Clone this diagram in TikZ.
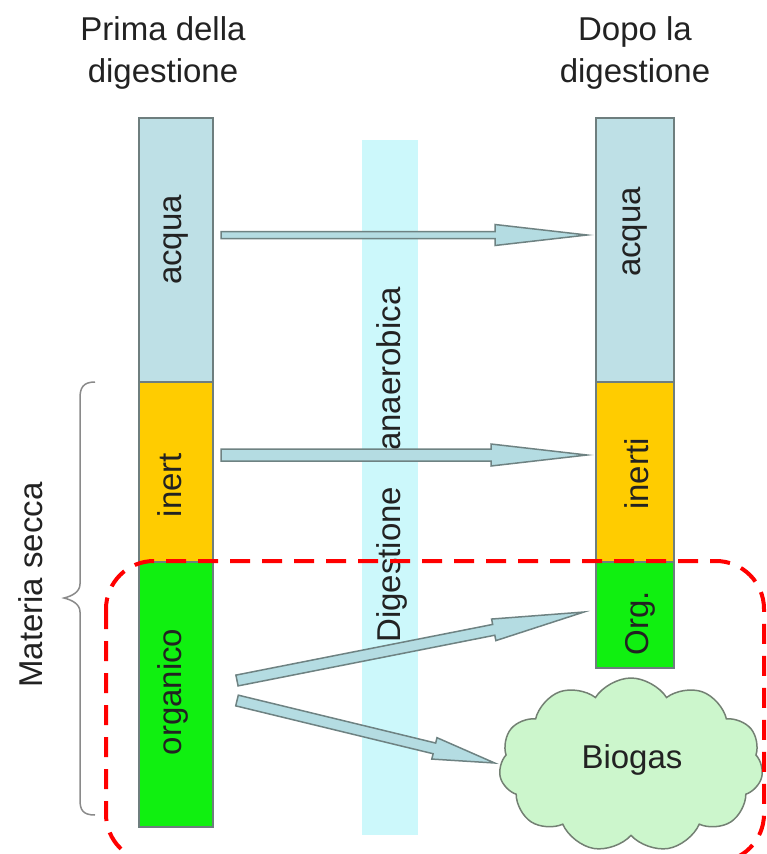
\documentclass[tikz,border=0pt]{standalone}
\usepackage{fontspec}
\setmainfont{Liberation Sans}
\usetikzlibrary{calc,shapes.symbols}
\definecolor{acq}{HTML}{BEE0E6}
\definecolor{inr}{HTML}{FFCC00}
\definecolor{org}{HTML}{10F010}
\definecolor{bord}{HTML}{6E7E7E}
\definecolor{band}{HTML}{CCF8FB}
\definecolor{arrf}{HTML}{B4DCE2}
\definecolor{arrd}{HTML}{6E8282}
\definecolor{cldf}{HTML}{CCF6CC}
\definecolor{cldd}{HTML}{738073}
\definecolor{txt}{HTML}{222222}
\definecolor{brc}{HTML}{8A8A8A}
\tikzset{
  colbox/.style={draw=bord,line width=2pt,inner sep=0pt,outer sep=0pt},
  lbl/.style={font=\fontsize{33}{42}\selectfont,text=txt,inner sep=0pt},
  vlbl/.style={lbl,rotate=90,anchor=base},
  fatarr/.style={fill=arrf,draw=arrd,line width=1.5pt,line join=miter},
}
\newcommand\fatarrow[5]{%
  \path let \p1=($(#2)-(#1)$) in \pgfextra{%
    \pgfmathsetmacro\faang{atan2(\y1,\x1)}%
    \pgfmathsetmacro\falen{veclen(\x1,\y1)}%
    \global\let\faangG\faang\global\let\falenG\falen};
  \begin{scope}[shift={(#1)},rotate=\faangG]
    \draw[fatarr] (0pt,-#3pt) -- (\falenG pt-#4pt,-#3pt) -- (\falenG pt-#4pt,-#5pt)
      -- (\falenG pt,0pt) -- (\falenG pt-#4pt,#5pt) -- (\falenG pt-#4pt,#3pt)
      -- (0pt,#3pt) -- cycle;
  \end{scope}}
\begin{document}
\begin{tikzpicture}[x=1pt,y=-1pt]
\useasboundingbox (0,0) rectangle (767,854);
% central band
\fill[band] (362,140) rectangle (418,835);
\node[lbl,rotate=90] (dig) at (392,465) {Digestione\hspace{36pt}anaerobica};
% left column
\node[colbox,fill=acq,minimum width=74pt,minimum height=264pt] (acqL) at (176,250) {};
\node[colbox,fill=inr,minimum width=74pt,minimum height=180pt] (inL) at (176,472) {};
\node[colbox,fill=org,minimum width=74pt,minimum height=265pt] (orgL) at (176,694.5) {};
% right column
\node[colbox,fill=acq,minimum width=78pt,minimum height=264pt] (acqR) at (635,250) {};
\node[colbox,fill=inr,minimum width=78pt,minimum height=180pt] (inR) at (635,472) {};
\node[colbox,fill=org,minimum width=78pt,minimum height=106pt] (orgR) at (635,615) {};
% column labels
\node[vlbl] (tacqL) at (181,240) {acqua};
\node[vlbl] (tinL) at (181,485) {inert};
\node[vlbl] (torgL) at (181,692) {organico};
\node[vlbl] (tacqR) at (640,232) {acqua};
\node[vlbl] (tinR) at (648,474) {inerti};
\node[vlbl] (torgR) at (648,623) {Org.};
% headings
\node[lbl,align=center] (hL) at (163,53) {Prima della\\digestione};
\node[lbl,align=center] (hR) at (635,53) {Dopo la\\digestione};
% cloud
\node[cloud,cloud puffs=11,cloud puff arc=115,cloud ignores aspect,
  minimum width=264pt,minimum height=174pt,fill=cldf,draw=cldd,line width=1.5pt,
  inner sep=0pt] (bio) at (631,765) {};
\node[lbl] (tbio) at (632,760) {Biogas};
% arrow end points
\coordinate (a1s) at ([xshift=8pt,yshift=15pt]acqL.east);
\coordinate (a1e) at ([xshift=-9pt,yshift=15pt]acqR.west);
\coordinate (a2s) at ([xshift=8pt,yshift=17pt]inL.east);
\coordinate (a2e) at ([xshift=-9pt,yshift=17pt]inR.west);
\coordinate (a3s) at ([xshift=24pt,yshift=14pt]orgL.east);
\coordinate (a3e) at ([xshift=-12pt,yshift=3pt]orgR.west);
\coordinate (a4s) at ([xshift=24pt,yshift=-6pt]orgL.east);
\coordinate (a4e) at ([xshift=-5pt,yshift=2pt]bio.west);
\fatarrow{a1s}{a1e}{3.5}{92}{10.5}
\fatarrow{a2s}{a2e}{6}{96}{11}
\fatarrow{a3s}{a3e}{5.5}{92}{11}
\fatarrow{a4s}{a4e}{5.5}{62}{11}
% brace
\draw[brc,line width=1.5pt] (95,382) .. controls (83,382) and (80,388) .. (80,398)
  -- (80,584) .. controls (80,592) and (72,596) .. (64,598)
  .. controls (72,600) and (80,604) .. (80,612)
  -- (80,800) .. controls (80,810) and (83,815) .. (95,815);
\node[lbl,rotate=90] (ms) at (31,585) {Materia secca};
% red dashed region
\draw[red,line width=4pt,dash pattern=on 20pt off 12pt,rounded corners=48pt]
  (106,561) rectangle (764,862);
\end{tikzpicture}
\end{document}
